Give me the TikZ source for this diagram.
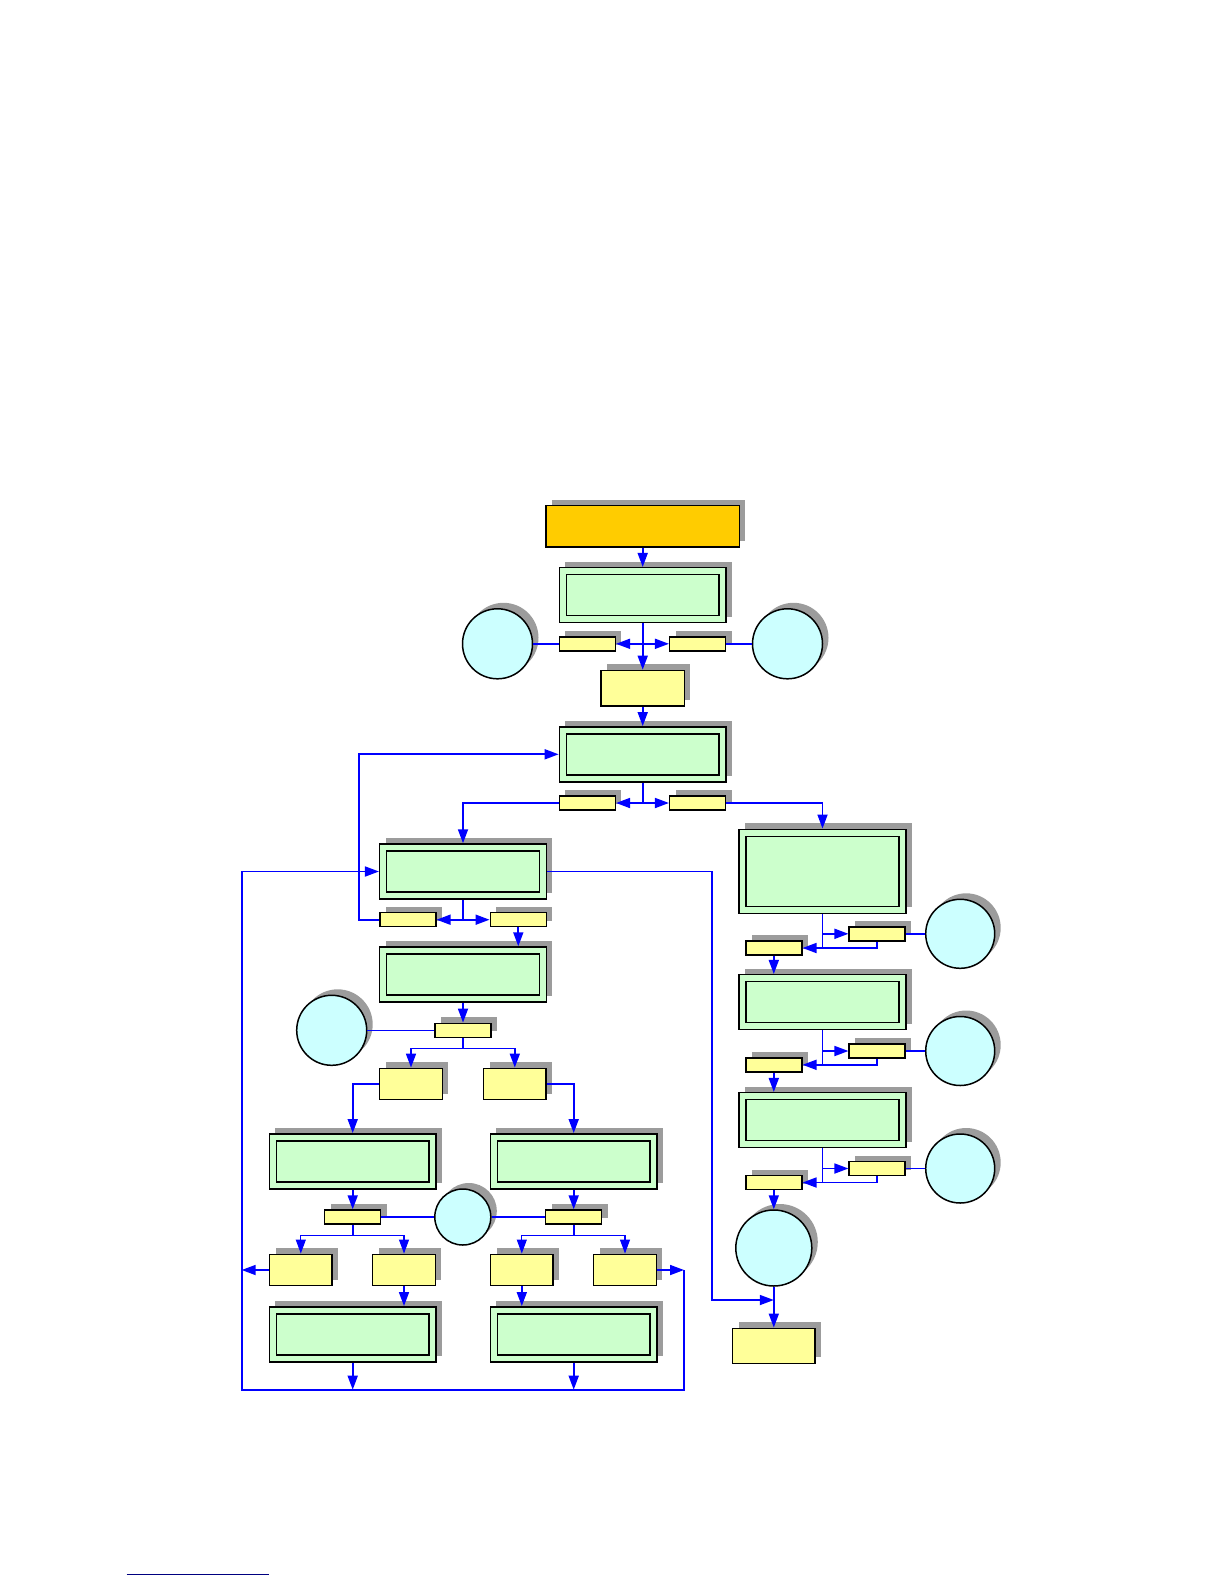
\documentclass[tikz,border=0pt]{standalone}
\usetikzlibrary{arrows.meta,shadows}

\definecolor{startorange}{HTML}{FFCC00}
\definecolor{boxgreen}{HTML}{CCFFCC}
\definecolor{boxyellow}{HTML}{FFFF99}
\definecolor{circcyan}{HTML}{CCFFFF}
\definecolor{shadegray}{HTML}{9C9C9C}
\definecolor{flowblue}{HTML}{0000FF}
\definecolor{rulenavy}{HTML}{000080}

\begin{document}
\begin{tikzpicture}[x=0.5pt,y=-0.5pt,
  boxshadow/.style={drop shadow={shadow xshift=3pt,shadow yshift=3pt,fill=shadegray,opacity=1}},
  startbox/.style={draw,line width=0.75pt,fill=startorange,inner sep=0,minimum width=96.7pt,minimum height=20.7pt,boxshadow},
  greenbox/.style={draw,line width=0.75pt,fill=boxgreen,inner sep=0,minimum width=83.3pt,minimum height=27.5pt,boxshadow,
    path picture={\draw[line width=0.75pt] ([shift={(3.5pt,3.5pt)}]path picture bounding box.south west) rectangle ([shift={(-3.5pt,-3.5pt)}]path picture bounding box.north east);}},
  tagbox/.style={draw,line width=0.75pt,fill=boxyellow,inner sep=0,minimum width=28pt,minimum height=7pt,boxshadow},
  yelbox/.style={draw,line width=0.75pt,fill=boxyellow,inner sep=0,minimum width=31.3pt,minimum height=15.7pt,boxshadow},
  circ/.style={circle,draw,line width=0.75pt,fill=circcyan,inner sep=0,minimum size=35pt,boxshadow},
  flow/.style={draw=flowblue,line width=0.85pt},
  thinflow/.style={draw=flowblue,line width=0.55pt},
  >={Triangle[length=7pt,width=5pt]}]

% Page
\useasboundingbox (0,0) rectangle (1224,1584);

% Start and first stage
\node[startbox] (start) at (642.7,526.3) {};
\node[greenbox] (g1) at (642.7,595.2) {};
\node[tagbox] (t1l) at (587.3,643.8) {};
\node[tagbox] (t1r) at (697.7,643.8) {};
\node[circ] (c1) at (497.5,643.8) {};
\node[circ] (c2) at (787.5,643.8) {};
\node[yelbox,minimum width=41.7pt,minimum height=17.8pt] (y0) at (642.7,688.2) {};

% Second stage
\node[greenbox] (g2) at (642.7,754.3) {};
\node[tagbox] (t2l) at (587.3,803) {};
\node[tagbox] (t2r) at (697.7,803) {};

% Left branch
\node[greenbox] (g3) at (463,871.5) {};
\node[tagbox] (t3l) at (407.8,919.7) {};
\node[tagbox] (t3r) at (518.3,919.7) {};
\node[greenbox] (g4) at (463,974.5) {};
\node[tagbox] (t4) at (463,1030.3) {};
\node[circ] (c3) at (331.7,1030.3) {};
\node[yelbox] (ya) at (411,1084) {};
\node[yelbox] (yb) at (514.8,1084) {};
\node[greenbox] (g5) at (352.7,1161.3) {};
\node[greenbox] (g6) at (573.7,1161.3) {};
\node[tagbox] (t5) at (352.7,1217) {};
\node[tagbox] (t6) at (573.7,1217) {};
\node[circ,minimum size=28pt] (c4) at (462.8,1217) {};
\node[yelbox] (yc1) at (300.8,1270) {};
\node[yelbox] (yc2) at (404,1270) {};
\node[yelbox] (yc3) at (521.8,1270) {};
\node[yelbox] (yc4) at (625,1270) {};
\node[greenbox] (g7) at (352.7,1334.3) {};
\node[greenbox] (g8) at (573.7,1334.3) {};

% Right branch
\node[greenbox,minimum height=42pt] (r1) at (822.5,871.3) {};
\node[tagbox] (tr1) at (877.2,933.8) {};
\node[tagbox] (tl1) at (773.8,948) {};
\node[circ,minimum size=34.5pt] (cr1) at (960.2,933.8) {};
\node[greenbox] (r2) at (822.5,1002.2) {};
\node[tagbox] (tr2) at (877.2,1051) {};
\node[tagbox] (tl2) at (773.8,1064.8) {};
\node[circ,minimum size=34.5pt] (cr2) at (960.2,1051) {};
\node[greenbox] (r3) at (822.5,1120.2) {};
\node[tagbox] (tr3) at (877.2,1168.5) {};
\node[tagbox] (tl3) at (773.8,1182.5) {};
\node[circ,minimum size=34.5pt] (cr3) at (960.2,1168.5) {};
\node[circ,minimum size=38pt] (cbig) at (773.8,1248) {};
\node[yelbox,minimum width=41.3pt,minimum height=17.5pt] (finish) at (773.8,1345.8) {};

% Loop corners
\coordinate (loopl) at (359.3,919.7);
\coordinate (lbot) at (241.7,1389.7);
\coordinate (rtop) at (684,1270);
\coordinate (rdrop) at (711.7,1300);

% Top connectors
\draw[flow,->] (start) -- (g1);
\draw[flow,->] (g1) -- (y0);
\draw[flow,->] (g1.south |- t1l.east) -- (t1l);
\draw[flow,->] (g1.south |- t1r.west) -- (t1r);
\draw[flow] (c1) -- (t1l);
\draw[flow] (t1r) -- (c2);
\draw[flow,->] (y0) -- (g2);
\draw[flow] (g2.south) -- (g2.south |- t2l.east);
\draw[flow,->] (g2.south |- t2l.east) -- (t2l);
\draw[flow,->] (g2.south |- t2r.west) -- (t2r);
\draw[flow,->] (t2l.west) -| (g3.north);
\draw[flow,->] (t2r.east) -| (r1.north);

% Left branch connectors
\draw[flow] (g3.south) -- (g3.south |- t3l.east);
\draw[flow,->] (g3.south |- t3l.east) -- (t3l);
\draw[flow,->] (g3.south |- t3r.west) -- (t3r);
\draw[flow,->] (t3l.west) -- (loopl) |- (g2.west);
\draw[flow,->] (t3r.south) -- (t3r.south |- g4.north);
\draw[flow,->] (g4) -- (t4);
\draw[thinflow] (c3) -- (t4);
\draw[flow] (t4.south) -- ++(0,10.4) coordinate (b4);
\draw[flow,->] (b4) -| (ya.north);
\draw[flow,->] (b4) -| (yb.north);
\draw[flow,->] (ya.west) -| (g5.north);
\draw[flow,->] (yb.east) -| (g6.north);
\draw[flow,->] (g5) -- (t5);
\draw[flow,->] (g6) -- (t6);
\draw[flow] (t5) -- (c4);
\draw[flow] (c4) -- (t6);
\draw[flow] (t5.south) -- ++(0,10.3) coordinate (b5);
\draw[thinflow,->] (b5) -| (yc1.north);
\draw[thinflow,->] (b5) -| (yc2.north);
\draw[flow] (t6.south) -- ++(0,10.3) coordinate (b6);
\draw[thinflow,->] (b6) -| (yc3.north);
\draw[thinflow,->] (b6) -| (yc4.north);
\draw[flow,->] (yc2.south) -- (yc2.south |- g7.north);
\draw[flow,->] (yc3.south) -- (yc3.south |- g8.north);
\draw[flow,->] (yc1.west) -- (yc1.west -| lbot);
\draw[flow,->] (yc4.east) -- (rtop);
\draw[flow,->] (g7.south) -- (g7.south |- lbot);
\draw[flow,->] (g8.south) -- (g8.south |- lbot);
\draw[flow,->] (rtop) |- (lbot) |- (g3.west);
\draw[flow,->] (g3.east) -| (rdrop) -- (rdrop -| cbig.south);

% Right branch connectors
\draw[flow] (r1.south) -- (r1.south |- tl1.east);
\draw[flow,->] (r1.south |- tr1.west) -- (tr1);
\draw[flow,->] (tr1.south) |- (tl1.east);
\draw[flow] (tr1) -- (cr1);
\draw[flow,->] (tl1.south) -- (tl1.south |- r2.north);
\draw[flow] (r2.south) -- (r2.south |- tl2.east);
\draw[flow,->] (r2.south |- tr2.west) -- (tr2);
\draw[flow,->] (tr2.south) |- (tl2.east);
\draw[flow] (tr2) -- (cr2);
\draw[flow,->] (tl2.south) -- (tl2.south |- r3.north);
\draw[flow] (r3.south) -- (r3.south |- tl3.east);
\draw[flow,->] (r3.south |- tr3.west) -- (tr3);
\draw[flow,->] (tr3.south) |- (tl3.east);
\draw[flow] (tr3) -- (cr3);
\draw[flow,->] (tl3) -- (cbig);
\draw[flow,->] (cbig) -- (finish);

% Footnote rule
\draw[rulenavy,line width=0.5pt] (126.7,1574.7) -- (268.7,1574.7);

\end{tikzpicture}
\end{document}
